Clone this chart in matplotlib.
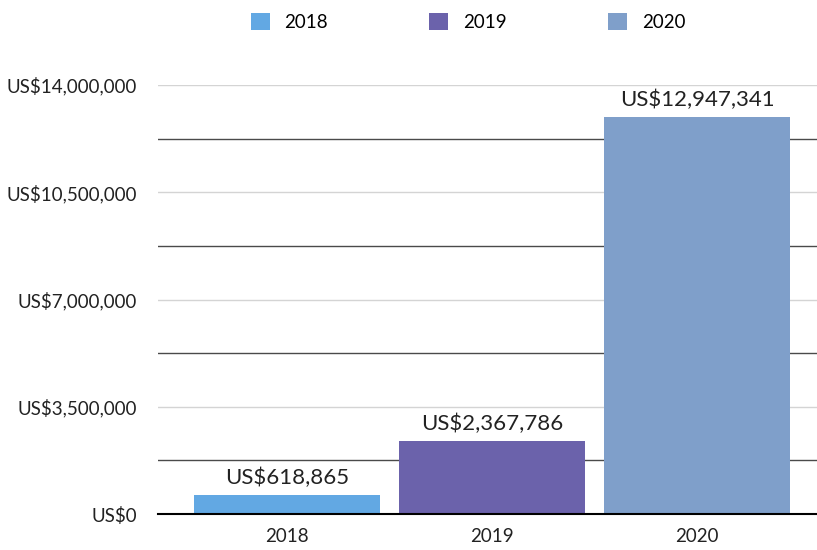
import matplotlib.pyplot as plt
from matplotlib.ticker import MultipleLocator, FuncFormatter

plt.rcParams['font.family'] = ['Lato', 'DejaVu Sans']

# data
years = ['2018', '2019', '2020']
revenue = [618865, 2367786, 12947341]
colors = ['#62A8E3', '#6B62AB', '#7F9FCA']

fig = plt.figure(figsize=(8.17, 5.5), dpi=100)
ax = fig.add_axes([158 / 817, 36 / 550, 1 - 158 / 817, 429 / 550])

x = range(len(years))
bars = ax.bar(x, revenue, width=0.91, color=colors, label=years, zorder=3)

for b, v in zip(bars, revenue):
    ax.text(b.get_x() + b.get_width() / 2, v + 230000, f'US${v:,}',
            ha='center', va='bottom', fontsize=16, color='#222222', zorder=4)

ax.set_ylim(0, 14000000)
ax.set_xlim(-0.63, 2.585)
ax.yaxis.set_major_locator(MultipleLocator(3500000))
ax.yaxis.set_minor_locator(MultipleLocator(1750000))
ax.yaxis.set_major_formatter(FuncFormatter(lambda v, p: f'US${int(v):,}'))
ax.grid(axis='y', which='major', color='#d4d4d4', linewidth=1, zorder=0)
ax.grid(axis='y', which='minor', color='#4a4a4a', linewidth=1, zorder=0)

ax.set_xticks(list(x))
ax.set_xticklabels(years)
ax.tick_params(axis='both', which='both', length=0, labelsize=13.5, colors='#222222')
ax.tick_params(axis='y', pad=15)
ax.tick_params(axis='x', pad=10)

for s in ['top', 'right', 'left']:
    ax.spines[s].set_visible(False)
ax.spines['bottom'].set_color('black')
ax.spines['bottom'].set_linewidth(1.5)
ax.spines['bottom'].set_zorder(5)

fig.legend(bars, years, loc='upper center', bbox_to_anchor=(468 / 817, 1.0),
           ncol=3, frameon=False, fontsize=13.5, handlelength=1.0, handleheight=1.0,
           columnspacing=5.4, handletextpad=0.8, borderaxespad=0.3)

fig.savefig('out.png', dpi=100)
